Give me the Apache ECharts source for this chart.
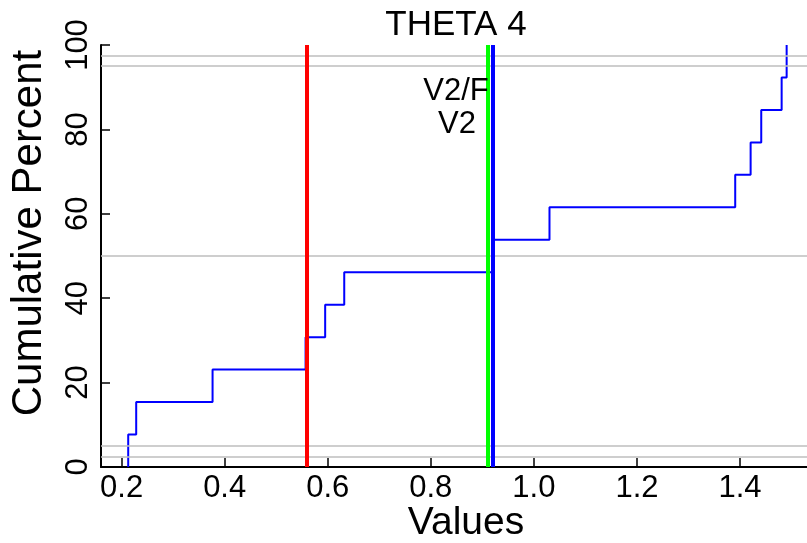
<!DOCTYPE html>
<html>
<head>
<meta charset="utf-8">
<script src="https://cdn.jsdelivr.net/npm/echarts@6/dist/echarts.min.js"></script>
<style>
html,body{margin:0;padding:0;background:#fff;}
#chart{width:807px;height:543px;}
</style>
</head>
<body>
<div id="chart"></div>
<script>
// ECDF sample values (sorted) and cumulative percents
var sampleValues = [0.2128, 0.2283, 0.3765, 0.557, 0.595, 0.632, 0.919, 1.0303, 1.3907, 1.4206, 1.4412, 1.4808, 1.4905];
var cumulativePercent = [7.69, 15.38, 23.08, 30.77, 38.46, 46.15, 53.85, 61.54, 69.23, 76.92, 84.62, 92.31, 100];
// horizontal reference percent levels
var refLevels = [2.5, 5, 50, 95, 97.5];
// vertical reference lines
var vLineNames = ['red', 'V2/F', 'V2'];
var vLineValues = [0.561, 0.9066, 0.9208];
var vLineColors = ['#ff0000', '#00ff00', '#0000ff'];
// tick labels
var xTicks = [0.2, 0.4, 0.6, 0.8, 1.0, 1.2, 1.4];
var yTicks = [0, 20, 40, 60, 80, 100];
var titleText = 'THETA 4';
var xName = 'Values';
var yName = 'Cumulative Percent';
var lineLabels = ['V2/F', 'V2'];

var FONT = '"Liberation Sans", Arial, sans-serif';

var ecdfData = [[sampleValues[0], 0]];
for (var i = 0; i < sampleValues.length; i++) {
  ecdfData.push([sampleValues[i], cumulativePercent[i]]);
}

var chart = echarts.init(document.getElementById('chart'), null, {renderer: 'canvas'});
var option = {
  animation: false,
  backgroundColor: '#ffffff',
  grid: {left: 101, right: 0, top: 45, bottom: 76, containLabel: false},
  xAxis: {
    type: 'value',
    min: 0.16,
    max: 1.53,
    axisLine: {show: true, onZero: false, lineStyle: {color: '#000', width: 2}},
    axisTick: {show: true, inside: true, length: 9, lineStyle: {color: '#000', width: 1.5}, customValues: xTicks},
    axisLabel: {
      show: true, color: '#000', fontSize: 31, fontFamily: FONT, margin: 6,
      customValues: xTicks,
      formatter: function (v) { return v.toFixed(1); }
    },
    splitLine: {show: false}
  },
  yAxis: {
    type: 'value',
    min: 0,
    max: 100,
    interval: 20,
    axisLine: {show: true, onZero: false, lineStyle: {color: '#000', width: 2}},
    axisTick: {show: true, inside: true, length: 9, lineStyle: {color: '#000', width: 1.5}},
    axisLabel: {show: true, color: '#000', fontSize: 31, fontFamily: FONT, rotate: 90, margin: 7,
      formatter: function (v) { return String(v); }},
    splitLine: {show: false}
  },
  graphic: [
    {type: 'text', x: 456, y: 25, z: 100,
      style: {text: titleText, fill: '#000', font: '35px ' + FONT, textAlign: 'center', textVerticalAlign: 'middle'}},
    {type: 'text', x: 466, y: 523, z: 100,
      style: {text: xName, fill: '#000', font: '39px ' + FONT, textAlign: 'center', textVerticalAlign: 'middle'}},
    {type: 'text', x: 29, y: 233, rotation: Math.PI / 2, z: 100,
      style: {text: yName, fill: '#000', font: '42px ' + FONT, textAlign: 'center', textVerticalAlign: 'middle'}},
    {type: 'text', x: 456, y: 91, z: 100,
      style: {text: lineLabels[0], fill: '#000', font: '31px ' + FONT, textAlign: 'center', textVerticalAlign: 'middle'}},
    {type: 'text', x: 457, y: 124, z: 100,
      style: {text: lineLabels[1], fill: '#000', font: '31px ' + FONT, textAlign: 'center', textVerticalAlign: 'middle'}}
  ],
  series: [
    {
      name: 'ref', type: 'line', data: [], silent: true, z: 1,
      markLine: {
        silent: true, symbol: ['none', 'none'], label: {show: false},
        lineStyle: {color: '#bebebe', width: 1.5, type: 'solid'},
        data: refLevels.map(function (v) { return {yAxis: v}; })
      }
    },
    {
      name: 'vlines', type: 'line', data: [], silent: true, z: 2,
      markLine: {
        silent: true, symbol: ['none', 'none'], label: {show: false},
        data: vLineValues.map(function (v, k) {
          return {xAxis: v, name: vLineNames[k], lineStyle: {color: vLineColors[k], width: 4, type: 'solid'}};
        })
      }
    },
    {
      name: 'ECDF', type: 'line', step: 'end', data: ecdfData, z: 3,
      showSymbol: false, symbol: 'none',
      lineStyle: {color: '#0000ff', width: 2},
      clip: true
    }
  ]
};
chart.setOption(option);
</script>
</body>
</html>
